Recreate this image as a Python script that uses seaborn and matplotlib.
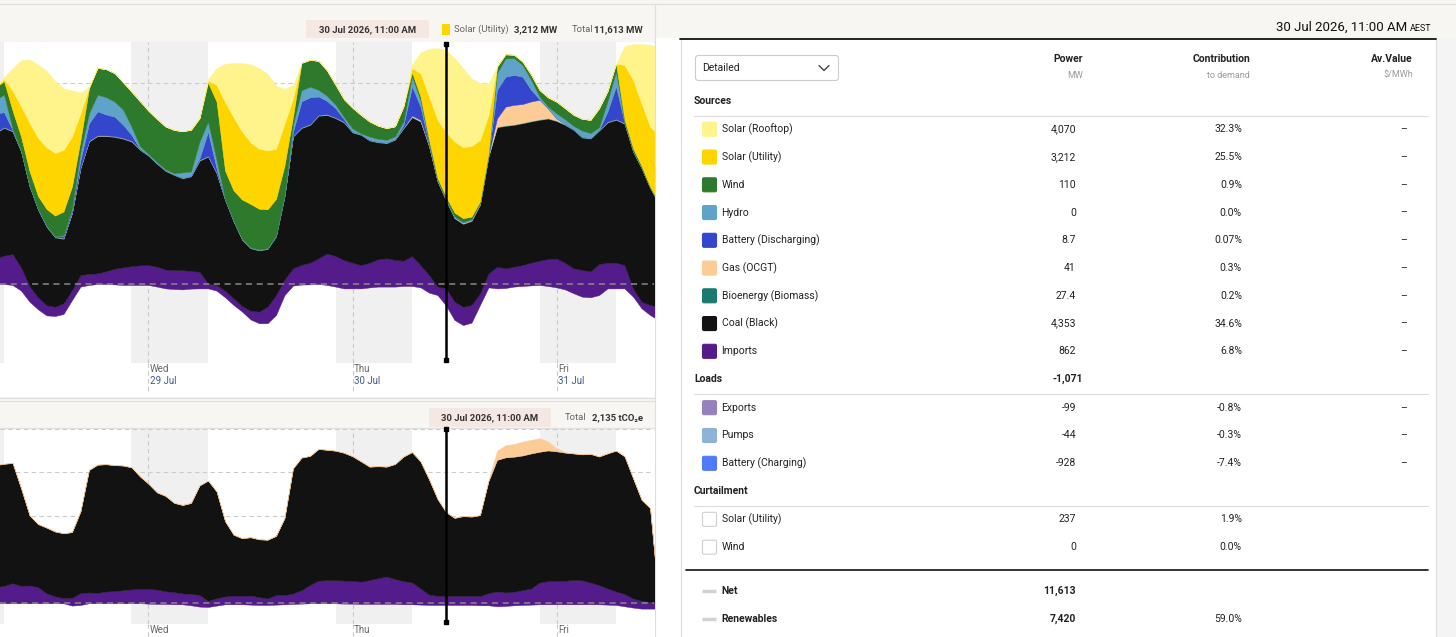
import numpy as np
import pandas as pd
import seaborn as sns
import matplotlib
matplotlib.use("Agg")
import matplotlib.pyplot as plt
from matplotlib.patches import Rectangle, FancyBboxPatch

sns.set_theme(style="white")
plt.rcParams['font.family'] = ['Roboto', 'DejaVu Sans']

# -----------------------------
# data: hourly, Tue 28 Jul 06:00 -> Fri 31 Jul 12:00
# -----------------------------
times = pd.date_range("2026-07-28 06:00", periods=79, freq="h")
hrs = ((times - pd.Timestamp("2026-07-28")) / pd.Timedelta(hours=1)).to_numpy()

# generation (MW)
loads = [0, 0, -50, -330, -880, -1260, -1560, -1590, -1490, -800,
         -130, -50, 0, 0, -20, -50, -50, -50, -50, -130,
         -220, -250, -270, -230, -220, -220, -330, -660, -1040, -1370,
         -1760, -1950, -1950, -1540, -550, -80, -30, -20, 0, -50,
         -130, -220, -220, -220, -170, -130, -130, -130, -100, -100,
         -170, -430, -550, -1071, -1790, -2040, -1920, -1040, -170, -220,
         -200, -130, -100, -70, -50, -100, -170, -270, -460, -630,
         -660, -550, -220, -220, -220, -630, -1210, -1540, -1790]
imports = [1290, 1410, 1540, 1160, 780, 600, 510, 460, 530, 500,
           580, 550, 530, 630, 780, 880, 940, 980, 990, 990,
           940, 940, 960, 880, 830, 250, 280, 330, 330, 280,
           430, 580, 830, 990, 780, 860, 980, 1080, 1280, 1570,
           1520, 1410, 1280, 1160, 1230, 1360, 1410, 1330, 1260, 1490,
           1110, 880, 410, 862, 910, 910, 880, 580, 700, 1080,
           980, 990, 1040, 1130, 1210, 1340, 1440, 1330, 1240, 1330,
           1290, 1540, 1280, 1280, 1160, 410, 330, 500, 660]
coal = [6190, 6340, 6080, 5750, 4940, 4340, 3890, 3440, 3200, 3810,
        5300, 6570, 6810, 6710, 6540, 6380, 6180, 5730, 5420, 5100,
        4890, 4720, 4550, 4690, 5510, 6290, 5550, 4500, 3810, 3280,
        3100, 3030, 2850, 2900, 4110, 6540, 6790, 6840, 7070, 6870,
        6840, 6820, 6460, 6460, 6060, 5800, 5710, 5960, 6570, 6890,
        7120, 6380, 5220, 4353, 4140, 4110, 4170, 4390, 5800, 6920,
        7070, 7040, 7040, 7010, 6990, 6970, 6820, 6840, 6870, 6570,
        6590, 6620, 6960, 7090, 7010, 6790, 6620, 5800, 5130]
bioenergy = [26, 26, 27, 27, 27, 27, 27, 27, 27, 27,
             27, 27, 27, 27, 27, 27, 27, 27, 27, 27,
             27, 27, 27, 27, 27, 27, 27, 27, 27, 27,
             27, 27, 27, 27, 27, 27, 27, 27, 27, 27,
             27, 27, 27, 27, 27, 27, 27, 27, 27, 27,
             27, 27, 27, 27.4, 27, 27, 27, 27, 27, 27,
             27, 27, 27, 27, 27, 27, 27, 27, 27, 27,
             27, 27, 27, 27, 27, 27, 27, 27, 27]
gas = [15, 15, 15, 15, 15, 15, 15, 15, 15, 15,
       15, 15, 15, 15, 15, 15, 15, 15, 15, 15,
       15, 15, 15, 15, 15, 15, 15, 15, 15, 15,
       15, 15, 15, 15, 15, 15, 15, 15, 15, 15,
       15, 15, 15, 15, 15, 15, 15, 15, 15, 60,
       60, 30, 40, 41, 40, 40, 40, 40, 40, 420,
       930, 970, 930, 970, 970, 490, 110, 25, 15, 15,
       15, 15, 15, 15, 15, 15, 15, 15, 15]
battery = [950, 740, 40, 0, 0, 0, 0, 0, 110, 130,
           370, 870, 1190, 1040, 970, 660, 290, 0, 0, 0,
           0, 0, 0, 0, 80, 1200, 210, 0, 0, 0,
           0, 0, 0, 0, 0, 210, 1290, 1330, 920, 660,
           460, 130, 0, 0, 0, 0, 0, 0, 130, 1440,
           660, 80, 10, 8.7, 20, 20, 20, 20, 20, 1410,
           1490, 1490, 1360, 580, 30, 0, 0, 0, 0, 0,
           0, 0, 510, 1620, 30, 0, 0, 0, 0]
hydro = [660, 880, 70, 30, 15, 15, 15, 15, 30, 80,
         410, 500, 830, 860, 750, 750, 410, 130, 50, 50,
         50, 50, 260, 210, 830, 500, 410, 15, 15, 15,
         15, 15, 15, 15, 15, 330, 550, 530, 330, 250,
         170, 100, 160, 40, 160, 140, 130, 130, 170, 500,
         330, 70, 0, 0, 20, 20, 20, 20, 20, 830,
         910, 830, 580, 500, 130, 80, 250, 230, 160, 310,
         230, 130, 500, 750, 30, 0, 0, 0, 0]
wind = [630, 660, 900, 680, 710, 630, 830, 1030, 1180, 1080,
        580, 1240, 1330, 1390, 1410, 1360, 1740, 2240, 2150, 2140,
        2120, 2150, 2040, 2070, 1160, 1940, 2900, 1410, 1490, 1950,
        2150, 2020, 1920, 1820, 1490, 410, 1360, 1330, 1440, 1260,
        990, 890, 1030, 910, 750, 650, 580, 500, 750, 200,
        170, 130, 100, 110, 180, 180, 110, 60, 60, 330,
        200, 170, 170, 250, 330, 460, 580, 550, 550, 580,
        660, 940, 500, 380, 100, 130, 80, 40, 40]
solar_utility = [0, 100, 990, 1490, 2400, 2900, 3060, 3110, 3060, 2480,
                 1330, 30, 0, 0, 0, 0, 0, 0, 0, 0,
                 0, 0, 0, 0, 0, 100, 830, 3400, 3640, 3380,
                 3060, 2980, 2930, 2480, 2070, 910, 0, 0, 0, 0,
                 0, 0, 0, 0, 0, 0, 0, 0, 0, 220,
                 1160, 2150, 2900, 3212, 3530, 3530, 3510, 3060, 1900, 0,
                 0, 0, 0, 0, 0, 0, 0, 0, 0, 0,
                 0, 0, 0, 0, 2730, 3400, 3110, 2980, 3310]
solar_rooftop = [0, 100, 1110, 2290, 3150, 3640, 3810, 3590, 3060, 2290,
                 1030, 50, 0, 0, 0, 0, 0, 0, 0, 0,
                 0, 0, 0, 0, 0, 70, 830, 1900, 2700, 3400,
                 3880, 4010, 3810, 3150, 1740, 660, 0, 0, 0, 0,
                 0, 0, 0, 0, 0, 0, 0, 0, 0, 170,
                 1030, 2370, 3560, 4070, 4140, 3930, 3360, 2820, 1570, 0,
                 0, 0, 0, 0, 0, 0, 0, 0, 0, 0,
                 0, 0, 0, 0, 940, 1770, 2950, 4060, 4390]

# emissions (tCO2e)
em_loads = [0, 0, 0, 0, 0, 0, 0, 0, 0, -53,
            -38, 0, 0, 0, 0, 0, 0, 0, -8, -15,
            -15, -23, -23, -46, -76, -84, -53, -23, -23, -23,
            -31, -38, -38, -31, -23, -15, -8, 0, 0, 0,
            0, -8, -8, -15, -15, -15, -15, -15, -23, -23,
            -31, -38, -38, -38, -38, -38, -38, -46, -46, -69,
            -61, -46, -38, -31, -23, -23, -23, -23, -23, -23,
            -23, -23, -31, -38, -69, -99, -122, -122, -122]
em_imports = [370, 400, 460, 400, 410, 370, 230, 160, 120, 180,
              270, 250, 240, 270, 280, 300, 320, 330, 340, 330,
              290, 280, 250, 260, 270, 140, 170, 180, 200, 200,
              210, 180, 150, 220, 210, 240, 310, 420, 520, 530,
              530, 530, 520, 510, 550, 590, 630, 570, 530, 500,
              370, 240, 210, 200, 210, 210, 210, 210, 280, 340,
              310, 310, 340, 370, 500, 530, 530, 540, 560, 550,
              500, 440, 370, 310, 280, 210, 180, 150, 140]
em_coal = [2790, 2790, 2750, 2230, 1600, 1440, 1500, 1480, 1480, 1500,
           1870, 2800, 2930, 2910, 2880, 2850, 2790, 2570, 2400, 2220,
           2180, 2040, 2020, 2080, 2500, 2750, 2440, 1720, 1390, 1310,
           1330, 1320, 1340, 1350, 1760, 2860, 3030, 2950, 3010, 2980,
           2960, 2920, 2850, 2750, 2590, 2560, 2510, 2630, 2850, 2980,
           2900, 2630, 2210, 1920, 1780, 1820, 1810, 1850, 2560, 3010,
           3090, 3090, 3080, 3090, 2990, 2990, 2970, 2930, 2890, 2880,
           2940, 2940, 3090, 3220, 3150, 2750, 2310, 2150, 100]
em_gas = [8, 8, 8, 8, 8, 8, 8, 8, 8, 8,
          8, 8, 8, 8, 8, 8, 8, 8, 8, 8,
          8, 8, 8, 8, 8, 8, 8, 8, 8, 8,
          8, 8, 8, 8, 8, 8, 8, 8, 8, 8,
          8, 8, 8, 8, 8, 8, 8, 8, 8, 15,
          15, 15, 15, 15, 10, 10, 10, 10, 30, 210,
          280, 290, 320, 310, 310, 210, 70, 10, 8, 8,
          8, 8, 8, 8, 8, 8, 8, 8, 8]

for s in (loads, imports, coal, bioenergy, gas, battery, hydro, wind, solar_utility,
          solar_rooftop, em_loads, em_imports, em_coal, em_gas):
    assert len(s) == len(times), len(s)

# table (30 Jul 2026, 11:00 AM)
source_names = ["Solar (Rooftop)", "Solar (Utility)", "Wind", "Hydro", "Battery (Discharging)",
                "Gas (OCGT)", "Bioenergy (Biomass)", "Coal (Black)", "Imports"]
source_power = ["4,070", "3,212", "110", "0", "8.7", "41", "27.4", "4,353", "862"]
source_contrib = ["32.3%", "25.5%", "0.9%", "0.0%", "0.07%", "0.3%", "0.2%", "34.6%", "6.8%"]
load_names = ["Exports", "Pumps", "Battery (Charging)"]
load_power = ["-99", "-44", "-928"]
load_contrib = ["-0.8%", "-0.3%", "-7.4%"]
curtail_names = ["Solar (Utility)", "Wind"]
curtail_power = ["237", "0"]
curtail_contrib = ["1.9%", "0.0%"]

# colours
C_ROOF, C_UTIL, C_WIND, C_HYDRO = '#fff38c', '#ffd500', '#2e7a2c', '#5fa3c8'
C_BATT, C_GAS, C_BIO, C_COAL, C_IMP = '#3446cc', '#fdcc96', '#1b7a70', '#121212', '#541b8a'
source_cols = [C_ROOF, C_UTIL, C_WIND, C_HYDRO, C_BATT, C_GAS, C_BIO, C_COAL, C_IMP]
load_cols = ['#9581bb', '#8db3d8', '#4f7bfb']

W, H = 1456, 637
X0, X1 = 6.53, 83.47
CURSOR = 59.0

fig = plt.figure(figsize=(W / 100, H / 100), dpi=100, facecolor='white')
bg = fig.add_axes([0, 0, 1, 1])
bg.set_xlim(0, W)
bg.set_ylim(H, 0)
bg.axis('off')

BEIGE = '#f8f6f2'
LINE = '#dedede'
# panel backgrounds
bg.add_patch(Rectangle((0, 0), 655, 42, fc=BEIGE, ec='none'))
bg.add_patch(Rectangle((0, 397), 655, 31, fc=BEIGE, ec='none'))
bg.add_patch(Rectangle((655, 0), 801, 38, fc=BEIGE, ec='none'))
bg.add_patch(Rectangle((1436, 38), 20, 599, fc='#f4f4f4', ec='none'))
bg.plot([0, W], [3.5, 3.5], color=LINE, lw=0.8)
bg.plot([0, 655], [42, 42], color=LINE, lw=0.8)
bg.plot([0, 655], [397.5, 397.5], color=LINE, lw=0.8)
bg.plot([0, 655], [400.5, 400.5], color=LINE, lw=0.8)
bg.plot([0, 655], [428, 428], color=LINE, lw=0.8)
bg.plot([654.5, 654.5], [3.5, 637], color=LINE, lw=0.8)
bg.plot([680.5, 680.5], [38, 637], color=LINE, lw=0.8)
bg.plot([1436, 1436], [38, 637], color=LINE, lw=0.8)

# tooltip strips
bg.add_patch(Rectangle((306, 20), 123, 18, fc='#f5e8e3', ec='none'))
bg.text(367.5, 29.5, "30 Jul 2026, 11:00 AM", ha='center', va='center', fontsize=6.8,
        weight='bold', color='#333333')
bg.add_patch(Rectangle((442, 24), 8, 11, fc=C_UTIL, ec='none'))
bg.text(454, 29.5, "Solar (Utility)", ha='left', va='center', fontsize=6.8, color='#666666')
bg.text(514, 29.5, "3,212 MW", ha='left', va='center', fontsize=6.8, weight='bold', color='#333333')
bg.text(593, 29.5, "Total", ha='right', va='center', fontsize=6.8, color='#666666')
bg.text(643, 29.5, "11,613 MW", ha='right', va='center', fontsize=6.8, weight='bold', color='#333333')

bg.add_patch(Rectangle((429, 408), 122, 19, fc='#f5e8e3', ec='none'))
bg.text(490, 418, "30 Jul 2026, 11:00 AM", ha='center', va='center', fontsize=6.8,
        weight='bold', color='#333333')
bg.text(586, 418, "Total", ha='right', va='center', fontsize=6.8, color='#666666')
bg.text(643, 418, "2,135 tCO₂e", ha='right', va='center', fontsize=6.8, weight='bold', color='#333333')


def stack(ax, base, layers):
    lo = np.asarray(base, float)
    for vals, col in layers:
        hi = lo + np.asarray(vals, float)
        ax.fill_between(hrs, lo, hi, color=col, ec=col, lw=0.3, zorder=3)
        lo = hi


def style(ax, ylo, yhi, grid):
    ax.set_facecolor('white')
    ax.set_xlim(X0, X1)
    ax.set_ylim(ylo, yhi)
    for d in range(4):
        ax.axvspan(24 * d - 2, 24 * d + 7, color='#f0f0f0', lw=0, zorder=0)
    for g in grid:
        ax.axhline(g, color='#cccccc', lw=0.8, ls=(0, (4, 3)), zorder=1)
    for m in (24, 48, 72):
        ax.axvline(m, color='#c9c9c9', lw=0.8, ls=(0, (4, 3)), zorder=1)
    ax.axhline(0, color='#8a8a8a', lw=1.1, ls=(0, (4, 3)), zorder=6)
    ax.set_xticks([])
    ax.set_yticks([])
    sns.despine(ax=ax, left=True, bottom=True)


# -----------------------------
# generation chart
# -----------------------------
ax1 = fig.add_axes([0, 274 / H, 654 / W, 321 / H])
style(ax1, -3925, 12020, [5000, 10000])
stack(ax1, loads, [(imports, C_IMP), (coal, C_COAL), (bioenergy, C_BIO), (gas, C_GAS),
                   (battery, C_BATT), (hydro, C_HYDRO), (wind, C_WIND),
                   (solar_utility, C_UTIL), (solar_rooftop, C_ROOF)])
ax1.plot([CURSOR, CURSOR], [11900, -3790], color='black', lw=1.8, marker='s', ms=3.5,
         zorder=8, clip_on=False)
day_labels = [("Wed", "29 Jul"), ("Thu", "30 Jul"), ("Fri", "31 Jul")]
for m, (wd, dt) in zip((24, 48, 72), day_labels):
    ax1.plot([m, m], [-3925, -5400], color='#c9c9c9', lw=0.8, ls=(0, (4, 3)), clip_on=False)
    ax1.text(m + 0.2, -4230, wd, ha='left', va='center', fontsize=7, color='#666666')
    ax1.text(m + 0.2, -4830, dt, ha='left', va='center', fontsize=7, color='#3e5a86')

# -----------------------------
# emissions chart
# -----------------------------
ax2 = fig.add_axes([0, 13 / H, 654 / W, 195.5 / H])
style(ax2, -474, 4000, [1000, 2000, 3000, 3990])
stack(ax2, em_loads, [(em_imports, C_IMP), (em_coal, C_COAL), (em_gas, C_GAS)])
ax2.plot([CURSOR, CURSOR], [3985, -420], color='black', lw=1.8, marker='s', ms=3.5,
         zorder=8, clip_on=False)
for m, (wd, dt) in zip((24, 48, 72), day_labels):
    ax2.plot([m, m], [-474, -800], color='#c9c9c9', lw=0.8, ls=(0, (4, 3)), clip_on=False)
    ax2.text(m + 0.2, -610, wd, ha='left', va='center', fontsize=7, color='#666666')

# -----------------------------
# table panel
# -----------------------------
bg.text(1407, 27, "30 Jul 2026, 11:00 AM", ha='right', va='center', fontsize=9.5, color='#111111')
bg.text(1410, 28.5, "AEST", ha='left', va='center', fontsize=6.5, color='#111111')
bg.plot([680, 1436], [38.5, 38.5], color='#111111', lw=1.3)

bg.add_patch(FancyBboxPatch((695.5, 55.5), 143, 25, boxstyle="round,pad=0,rounding_size=3",
                            fc='white', ec='#cccccc', lw=0.8))
bg.text(702, 68, "Detailed", ha='left', va='center', fontsize=7.5, color='#222222')
bg.plot([819, 824, 829], [65.5, 70.5, 65.5], color='#333333', lw=0.9)

for xr, top, sub in [(1083, "Power", "MW"), (1250, "Contribution", "to demand"),
                     (1413, "Av.Value", r"\$/MWh")]:
    bg.text(xr, 59.5, top, ha='right', va='center', fontsize=7.5, weight='bold', color='#222222')
    bg.text(xr, 75, sub, ha='right', va='center', fontsize=6.5, color='#9a9a9a')

TXT = '#222222'


def section(y, title, total=None):
    bg.text(694, y, title, ha='left', va='center', fontsize=7.5, weight='bold', color=TXT)
    if total:
        bg.text(1083, y, total, ha='right', va='center', fontsize=7.5, weight='bold', color=TXT)
    bg.plot([694, 1428], [y + 14.5, y + 14.5], color='#dcdcdc', lw=0.8)


def row(y, name, power, contrib, col, dash=True):
    bg.add_patch(FancyBboxPatch((702.5, y - 7), 14, 14, boxstyle="round,pad=0,rounding_size=1.5",
                                fc=col, ec='#cfcfcf' if col == 'white' else col, lw=0.8))
    bg.text(721.5, y, name, ha='left', va='center', fontsize=7.5, color=TXT)
    bg.text(1076, y, power, ha='right', va='center', fontsize=7.5, color=TXT)
    bg.text(1242, y, contrib, ha='right', va='center', fontsize=7.5, color=TXT)
    if dash:
        bg.text(1404, y, "–", ha='center', va='center', fontsize=7.5, color=TXT)


section(101, "Sources")
for i, (n, p, c, col) in enumerate(zip(source_names, source_power, source_contrib, source_cols)):
    row(129.3 + i * 27.75, n, p, c, col)

section(379, "Loads", "-1,071")
for i, (n, p, c, col) in enumerate(zip(load_names, load_power, load_contrib, load_cols)):
    row(407.7 + i * 27.8, n, p, c, col)

section(491.3, "Curtailment")
for i, (n, p, c) in enumerate(zip(curtail_names, curtail_power, curtail_contrib)):
    row(519.3 + i * 27.9, n, p, c, 'white', dash=False)

bg.plot([686, 1428], [569.5, 569.5], color='#111111', lw=1.2)
for y, n, p, c in [(591.3, "Net", "11,613", ""), (619.3, "Renewables", "7,420", "59.0%")]:
    bg.plot([702, 716], [y, y], color='#d2d2d2', lw=2.5, solid_capstyle='butt')
    bg.text(721.5, y, n, ha='left', va='center', fontsize=7.5, weight='bold', color=TXT)
    bg.text(1076, y, p, ha='right', va='center', fontsize=7.5, weight='bold', color=TXT)
    bg.text(1242, y, c, ha='right', va='center', fontsize=7.5, color=TXT)

fig.savefig("out.png", dpi=100, facecolor='white')
